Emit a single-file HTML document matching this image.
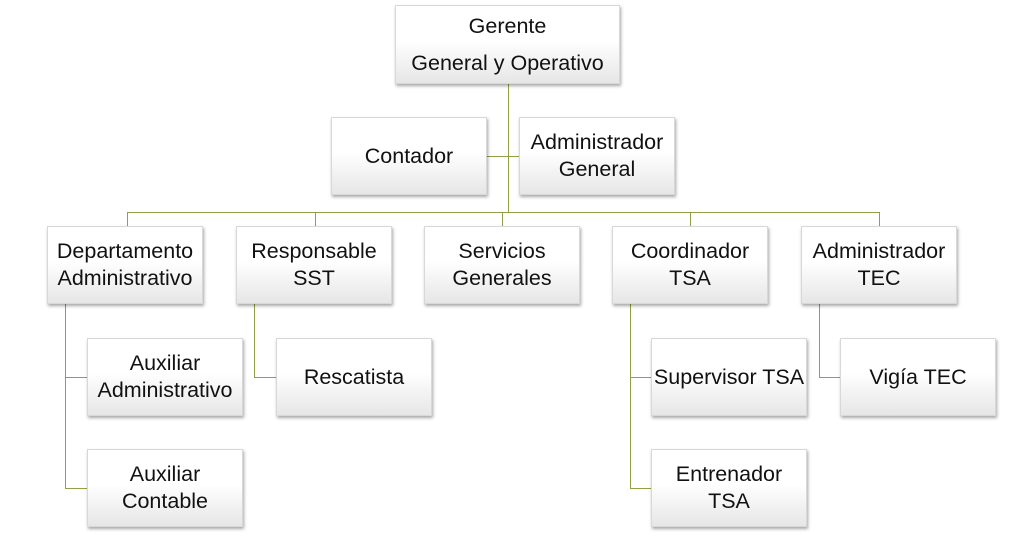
<!DOCTYPE html><html><head><style>
body{margin:0;width:1024px;height:536px;background:#fff;position:relative;overflow:hidden;font-family:"Liberation Sans",sans-serif}
.b{position:absolute;width:156px;height:78px;background:linear-gradient(#fff 0%,#fff 45%,#e6e6e6 100%);border:1px solid #d8d8d8;box-shadow:1px 2px 3px rgba(0,0,0,.35);display:flex;align-items:center;justify-content:center;text-align:center;font-size:21.5px;line-height:27px;color:#111;box-sizing:border-box;white-space:nowrap}
.l{position:absolute;background:#8fa046}
</style></head><body>
<div class="l" style="left:508px;top:84px;width:1px;height:128px"></div>
<div class="l" style="left:486px;top:156px;width:33px;height:1px"></div>
<div class="l" style="left:127px;top:212px;width:753px;height:1px"></div>
<div class="l" style="left:127px;top:212px;width:1px;height:14px"></div>
<div class="l" style="left:315px;top:212px;width:1px;height:14px"></div>
<div class="l" style="left:502px;top:212px;width:1px;height:14px"></div>
<div class="l" style="left:690px;top:212px;width:1px;height:14px"></div>
<div class="l" style="left:879px;top:212px;width:1px;height:14px"></div>
<div class="l" style="left:65px;top:304px;width:1px;height:184px"></div>
<div class="l" style="left:65px;top:377px;width:22px;height:1px"></div>
<div class="l" style="left:65px;top:488px;width:22px;height:1px"></div>
<div class="l" style="left:254px;top:304px;width:1px;height:73px"></div>
<div class="l" style="left:254px;top:377px;width:22px;height:1px"></div>
<div class="l" style="left:630px;top:304px;width:1px;height:184px"></div>
<div class="l" style="left:630px;top:377px;width:21px;height:1px"></div>
<div class="l" style="left:630px;top:488px;width:21px;height:1px"></div>
<div class="l" style="left:819px;top:304px;width:1px;height:73px"></div>
<div class="l" style="left:819px;top:377px;width:21px;height:1px"></div>
<div class="b" style="left:395px;top:5px;width:225px;height:79px;line-height:37px">Gerente<br>General y Operativo</div>
<div class="b" style="left:331px;top:117px">Contador</div>
<div class="b" style="left:519px;top:117px">Administrador<br>General</div>
<div class="b" style="left:47px;top:226px">Departamento<br>Administrativo</div>
<div class="b" style="left:236px;top:226px">Responsable<br>SST</div>
<div class="b" style="left:424px;top:226px">Servicios<br>Generales</div>
<div class="b" style="left:612px;top:226px">Coordinador<br>TSA</div>
<div class="b" style="left:801px;top:226px">Administrador<br>TEC</div>
<div class="b" style="left:87px;top:338px">Auxiliar<br>Administrativo</div>
<div class="b" style="left:276px;top:338px">Rescatista</div>
<div class="b" style="left:651px;top:338px">Supervisor TSA</div>
<div class="b" style="left:840px;top:338px">Vigía TEC</div>
<div class="b" style="left:87px;top:449px">Auxiliar<br>Contable</div>
<div class="b" style="left:651px;top:449px">Entrenador<br>TSA</div>
</body></html>
